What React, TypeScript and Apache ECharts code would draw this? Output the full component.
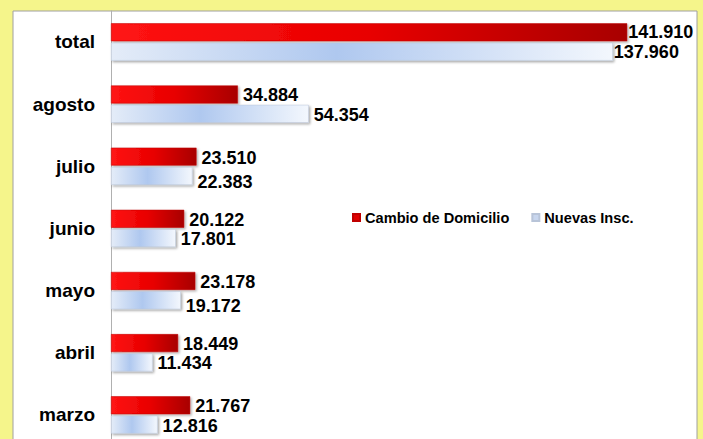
import React, { useEffect, useRef } from "react";
import * as echarts from "echarts";

const categories = ["total", "agosto", "julio", "junio", "mayo", "abril", "marzo"];
const cambioDomicilio = [141910, 34884, 23510, 20122, 23178, 18449, 21767];
const nuevasInsc = [137960, 54354, 22383, 17801, 19172, 11434, 12816];
const seriesNames = ["Cambio de Domicilio", "Nuevas Insc."];

const FONT = "'Liberation Sans', Arial, Helvetica, sans-serif";

function fmt(v: number): string {
  return String(Math.round(v)).replace(/\B(?=(\d{3})+(?!\d))/g, ".");
}

const redGrad = new echarts.graphic.LinearGradient(0, 0, 1, 0, [
  { offset: 0, color: "#FF1414" },
  { offset: 0.5, color: "#E80000" },
  { offset: 1, color: "#A80000" },
]);
const blueGrad = new echarts.graphic.LinearGradient(0, 0, 1, 0, [
  { offset: 0, color: "#E4ECF8" },
  { offset: 0.45, color: "#AFC8EF" },
  { offset: 1, color: "#F3F7FD" },
]);

export default function App() {
  const ref = useRef<HTMLDivElement>(null);
  useEffect(() => {
    if (!ref.current) return;
    const chart = echarts.init(ref.current, undefined, { renderer: "svg" });
    const labelBase = {
      show: true,
      position: "right" as const,
      distance: 5,
      color: "#000",
      fontFamily: FONT,
      fontWeight: "bold" as const,
      fontSize: 18,
      formatter: (p: any) => fmt(p.value),
    };
    // label placement tweaks seen in the original (Excel shifts some labels down)
    const blueNudge: Record<string, number> = { julio: 6, mayo: 6 };
    const mkRed = (vals: number[]) =>
      vals.map((v, i) =>
        i === 0 ? { value: v, label: { distance: 1 } } : { value: v, label: { offset: [0, 1] } }
      );
    const mkBlue = (vals: number[]) =>
      vals.map((v, i) =>
        i === 0
          ? { value: v, label: { distance: 1 } }
          : { value: v, label: { offset: [0, blueNudge[categories[i]] ?? 1] } }
      );
    chart.setOption({
      animation: false,
      backgroundColor: "#F5F58B",
      graphic: [
        {
          type: "rect",
          z: -1,
          shape: { x: 13, y: 11, width: 684, height: 450 },
          style: { fill: "#FFFFFF", stroke: "#A0A0A0", lineWidth: 1 },
        },
      ],
      legend: {
        left: 347,
        top: 205,
        itemWidth: 7,
        itemHeight: 7,
        itemGap: 22,
        icon: "rect",
        textStyle: { fontFamily: FONT, fontWeight: "bold", fontSize: 14.6, color: "#000" },
        data: [
          { name: seriesNames[0], itemStyle: { color: "#E00000" } },
          { name: seriesNames[1], itemStyle: { color: "#C8D6EE" } },
        ],
      },
      grid: { left: 111, right: 10, top: 10.9, bottom: 0, containLabel: false },
      xAxis: { type: "value", min: 0, max: 160000, show: false },
      yAxis: {
        type: "category",
        inverse: true,
        data: categories,
        axisLine: { show: true, lineStyle: { color: "#B0B0B0", width: 1 } },
        axisTick: { show: false },
        splitLine: { show: false },
        axisLabel: {
          margin: 16,
          color: "#000",
          fontFamily: FONT,
          fontWeight: "bold",
          fontSize: 19,
        },
      },
      series: [
        {
          name: seriesNames[0],
          type: "bar",
          data: mkRed(cambioDomicilio),
          barGap: "8%",
          barCategoryGap: "40%",
          itemStyle: {
            color: redGrad,
            borderColor: "#C00000",
            borderWidth: 0.5,
            shadowColor: "rgba(0,0,0,0.3)",
            shadowBlur: 2,
            shadowOffsetX: 1.5,
            shadowOffsetY: 1.5,
          },
          label: labelBase,
        },
        {
          name: seriesNames[1],
          type: "bar",
          data: mkBlue(nuevasInsc),
          barGap: "8%",
          barCategoryGap: "40%",
          itemStyle: {
            color: blueGrad,
            borderColor: "#B8C4D8",
            borderWidth: 0.5,
            shadowColor: "rgba(0,0,0,0.35)",
            shadowBlur: 2,
            shadowOffsetX: 1.5,
            shadowOffsetY: 1.5,
          },
          label: labelBase,
        },
      ],
    });
    return () => chart.dispose();
  }, []);
  return (
    <div
      style={{
        position: "absolute",
        left: 0,
        top: 0,
        width: 703,
        height: 439,
        overflow: "hidden",
      }}
    >
      <div ref={ref} style={{ width: 703, height: 446.4 }} />
    </div>
  );
}
